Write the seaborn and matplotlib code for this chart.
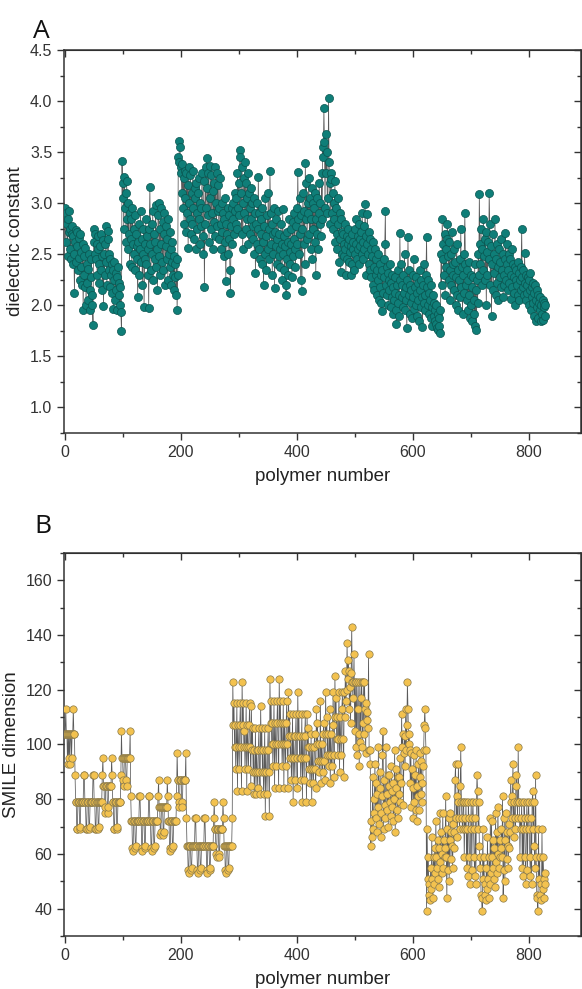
import numpy as np
import pandas as pd
import matplotlib
matplotlib.use("Agg")
import matplotlib.pyplot as plt
from matplotlib.ticker import MultipleLocator, FormatStrFormatter
import seaborn as sns

# ---------------- data ----------------
dielectric = [
2.95,2.88,2.62,2.90,2.80,2.48,2.85,2.72,2.92,2.55,
2.75,2.45,2.70,2.78,2.40,2.68,2.50,2.12,2.62,2.74,
2.42,2.72,2.58,2.35,2.66,2.46,2.25,2.70,2.52,2.38,
2.20,2.60,1.95,2.48,2.30,2.18,2.56,2.00,2.40,2.22,
2.36,2.05,2.50,2.15,1.95,2.28,2.45,2.10,2.00,1.81,
2.75,2.62,2.50,2.70,2.45,2.60,2.30,2.55,2.68,2.40,
2.22,2.58,2.70,2.35,2.48,2.15,2.64,1.99,2.50,2.30,
2.60,2.78,2.42,2.20,2.65,2.73,2.35,2.50,2.18,2.45,
2.30,2.40,2.12,2.35,1.96,2.25,2.42,2.05,2.32,2.15,
2.28,1.95,2.38,2.10,2.22,2.00,2.18,1.93,1.75,3.41,
3.05,3.20,2.75,3.26,2.95,3.10,2.62,3.22,2.85,2.55,
3.00,2.70,2.40,2.90,2.65,2.85,2.38,2.95,2.60,2.75,
2.50,2.88,2.35,2.70,2.58,2.45,2.08,2.62,2.80,2.30,
2.55,2.92,2.42,2.65,2.20,2.50,2.75,1.98,2.45,2.60,
2.85,2.40,2.68,2.30,2.55,1.97,2.75,3.16,2.60,2.35,
2.80,2.50,2.92,2.25,2.70,2.45,2.62,2.98,2.38,2.55,
2.15,2.88,3.00,2.48,2.75,2.30,2.95,2.60,2.42,2.82,
2.35,2.70,2.90,2.20,2.58,2.78,2.45,2.65,2.25,2.85,
2.50,2.38,2.72,2.20,2.55,2.42,2.62,2.30,2.48,2.15,
2.40,2.28,2.10,2.45,1.95,2.30,3.45,3.40,3.61,3.55,
3.35,3.30,3.10,3.38,2.95,3.25,2.80,3.32,3.05,2.72,
3.30,2.90,3.18,2.56,3.35,3.00,2.85,3.28,2.70,3.10,
2.80,3.32,2.95,2.65,3.15,3.05,2.55,3.20,2.90,2.75,
3.10,2.85,3.25,2.60,3.00,2.78,2.95,3.30,2.68,2.50,
3.22,2.18,2.80,3.35,2.95,3.44,3.15,2.88,3.30,2.62,
3.05,3.36,2.75,3.28,2.90,2.55,3.12,2.82,3.20,2.68,
3.35,3.00,2.78,3.30,2.92,3.18,2.65,2.95,3.25,2.80,
2.55,3.00,2.72,2.90,2.48,2.85,3.05,2.62,2.24,2.80,
2.70,2.95,2.50,2.88,2.65,2.35,2.12,2.78,2.95,2.60,
2.85,3.00,2.70,2.92,3.10,2.80,3.05,2.75,3.30,2.95,
3.20,2.88,3.52,3.45,3.10,2.70,3.35,2.55,3.00,3.25,
2.90,3.40,2.75,3.20,3.05,2.85,3.30,2.60,3.10,2.95,
2.70,3.15,2.85,3.00,2.65,2.78,3.05,2.50,2.90,2.32,
2.80,2.60,3.00,2.75,3.26,2.55,2.90,2.45,2.70,2.85,
2.40,2.95,2.62,2.20,2.78,2.50,3.05,2.68,2.35,2.88,
2.55,3.10,2.75,2.45,3.32,2.90,2.60,2.80,2.30,2.70,
2.50,2.95,2.17,2.72,2.58,2.85,2.40,2.65,2.92,2.48,
2.70,2.55,2.38,2.80,2.60,2.25,2.94,2.50,2.68,2.35,
2.58,2.20,2.10,2.72,2.45,2.62,2.30,2.85,2.52,2.40,
2.75,2.60,2.28,2.82,2.48,2.65,2.90,2.55,2.38,2.78,
2.95,2.60,3.31,2.85,2.50,3.05,2.70,2.25,2.88,2.14,
2.75,3.10,2.60,2.92,2.40,3.39,2.85,3.20,2.65,3.00,
2.90,3.25,2.70,3.05,2.55,2.85,3.15,2.45,3.00,2.75,
2.95,2.62,3.10,2.30,2.85,2.70,3.05,2.55,2.90,3.20,
2.80,3.00,2.68,3.30,2.85,3.55,3.45,3.93,3.60,2.95,
3.68,3.30,3.50,2.90,3.05,4.03,3.40,3.20,2.80,3.30,
3.24,2.90,3.10,2.75,3.00,2.85,3.22,2.62,2.95,2.70,
2.55,3.05,2.80,2.42,2.90,2.65,2.33,2.85,2.72,2.50,
2.70,2.60,2.48,2.80,2.55,2.30,2.68,2.45,2.75,2.60,
2.42,2.65,2.52,2.30,2.58,2.70,2.40,2.55,2.62,2.35,
2.50,2.75,2.60,2.85,2.45,2.68,2.55,2.80,2.40,2.65,
2.58,2.72,2.50,2.90,2.62,2.45,2.78,2.55,2.99,2.68,
2.30,2.60,2.89,2.50,2.72,2.40,2.65,2.35,2.55,2.28,
2.48,2.20,2.62,2.38,2.15,2.55,2.30,2.45,2.10,2.35,
2.25,2.50,2.05,2.40,2.18,2.30,2.02,1.94,2.35,2.12,
2.45,2.28,2.60,2.92,2.20,2.38,2.10,2.32,2.00,2.25,
2.15,2.40,1.98,2.22,2.08,2.30,1.92,2.18,2.05,2.12,
2.28,1.95,1.82,2.20,2.02,2.35,2.10,1.90,2.71,2.25,
2.40,2.08,2.20,1.98,2.30,2.12,2.50,1.95,2.18,2.05,
1.78,2.25,2.67,2.10,2.35,1.92,2.20,2.02,2.15,1.88,
2.30,2.08,2.45,1.96,2.18,2.00,2.28,1.90,2.12,2.22,
2.05,1.85,2.35,2.15,1.98,2.25,2.08,1.79,2.20,2.02,
2.40,2.10,1.95,2.30,2.67,2.18,2.00,2.25,1.92,2.12,
2.05,1.88,2.20,1.98,1.80,2.10,1.90,2.02,1.85,1.95,
1.82,2.00,1.78,1.92,1.76,1.88,1.80,1.73,1.95,2.50,
2.20,2.85,2.60,2.45,2.30,2.70,2.10,2.55,2.38,2.65,
2.80,2.48,2.25,2.62,2.35,2.05,2.50,2.20,2.72,2.40,
2.30,2.55,2.15,2.42,2.00,2.28,2.60,2.10,2.35,1.95,
2.25,2.45,2.08,2.75,2.18,2.38,1.92,2.30,2.12,2.50,
2.90,2.40,2.20,2.05,2.35,1.95,2.25,2.10,2.42,1.88,
2.30,2.00,2.18,1.85,2.28,2.05,1.92,2.40,1.80,2.15,
1.76,2.25,2.02,2.50,2.30,3.09,2.60,2.40,2.75,2.20,
2.55,2.35,2.85,2.48,2.65,2.25,2.72,2.00,2.52,2.30,
2.62,2.45,3.10,2.80,2.20,2.58,1.90,2.40,2.70,2.15,
2.50,2.32,2.85,2.10,2.45,2.60,2.22,2.38,2.05,2.55,
2.28,2.42,2.65,2.18,2.35,2.50,2.08,2.30,2.20,2.45,
2.71,2.25,2.40,2.60,2.15,2.35,2.50,2.22,2.45,2.06,
2.30,2.55,2.18,2.40,2.12,2.28,2.38,2.00,2.25,2.35,
2.20,2.42,2.10,2.32,2.05,2.25,2.15,2.38,2.75,2.28,
2.18,2.35,2.10,2.51,2.22,2.30,2.05,2.20,2.12,2.28,
2.00,2.25,2.15,2.32,1.95,2.18,2.08,2.22,2.02,2.12,
1.90,2.20,2.05,1.85,2.15,1.98,2.10,1.88,2.02,1.95,
2.08,1.85,2.00,1.92,2.05,1.86,1.98,2.02,1.90,2.00,
]

smile_dim = [
104,104,113,104,104,93,104,95,104,93,104,104,95,104,104,113,104,104,
89,79,79,69,69,79,79,79,69,70,79,79,79,79,79,89,
89,79,79,69,69,79,79,79,69,70,79,79,79,79,79,89,
89,79,79,69,69,79,79,79,69,70,79,79,79,79,79,89,
95,85,85,75,77,85,85,85,75,77,85,85,85,85,85,95,
89,79,79,69,69,79,79,79,69,70,79,79,79,79,79,89,
105,95,95,87,85,95,95,95,87,85,95,95,95,95,95,105,
81,72,72,62,61,72,72,72,62,63,72,72,72,72,72,81,
81,72,72,62,61,72,72,72,62,63,72,72,72,72,72,81,
81,72,72,62,61,72,72,72,62,63,72,72,72,72,72,81,
87,77,77,67,68,77,77,77,67,68,77,77,77,77,77,87,
81,72,72,62,61,72,72,72,62,63,72,72,72,72,72,81,
97,87,87,79,77,87,87,87,79,77,87,87,87,87,87,97,
73,63,63,54,53,63,63,63,54,55,63,63,63,63,63,73,
73,63,63,54,53,63,63,63,54,55,63,63,63,63,63,73,
73,63,63,54,53,63,63,63,54,55,63,63,63,63,63,73,
79,69,69,60,59,69,69,69,60,59,69,69,69,69,69,79,
73,63,63,54,53,63,63,63,54,55,63,63,63,63,63,73,
123,107,115,99,107,91,99,115,83,107,99,91,107,115,99,83,
123,107,115,99,105,91,99,115,83,107,99,91,107,115,99,85,
114,98,106,90,98,82,90,106,82,98,90,84,98,106,90,82,
114,98,106,90,98,82,90,106,74,98,90,82,98,106,90,74,
124,108,116,100,108,92,100,116,84,108,100,92,108,116,100,84,
124,108,116,100,108,92,100,116,84,108,100,92,108,116,100,84,
119,103,111,95,103,87,95,111,79,103,95,87,103,111,95,84,
119,103,111,95,103,87,95,111,79,103,95,87,103,111,95,79,
111,99,106,91,99,86,91,104,79,99,91,86,99,104,91,84,
113,100,108,94,100,90,94,116,86,100,94,90,104,108,94,87,
119,104,110,96,104,92,96,113,86,104,96,92,107,119,96,88,
125,110,117,102,110,96,102,119,90,110,102,96,113,119,102,88,
119,110,127,116,120,137,124,131,
127,113,121,108,126,143,123,117,
123,133,105,123,99,123,96,113,
123,104,92,123,101,117,123,99,
108,123,104,123,113,97,115,109,
112,106,133,98,
98,93,63,72,66,88,69,75,80,93,
73,86,68,82,77,99,71,84,90,75,
66,81,96,105,69,87,78,73,99,82,
76,89,70,85,89,79,74,92,83,77,
86,72,80,98,68,84,91,76,88,73,
82,88,95,79,
86,111,99,104,78,97,103,92,113,98,
107,123,113,100,104,98,86,97,77,91,
84,73,96,79,89,76,98,72,85,81,
93,76,88,97,82,94,79,86,92,98,
107,113,106,98,
39,69,51,59,45,49,43,55,47,66,51,44,59,49,62,53,
72,59,55,65,51,62,48,75,57,68,53,60,75,55,65,59,
62,81,59,44,69,54,73,50,65,75,58,68,63,55,71,62,
68,87,93,73,81,66,79,93,73,69,85,99,79,73,69,79,
79,59,73,69,79,55,69,52,79,73,59,49,69,79,54,73,
79,69,59,52,73,49,79,89,83,69,79,63,55,59,45,44,
39,69,51,59,45,49,43,55,47,66,51,44,59,49,73,53,
72,59,55,65,51,62,48,75,57,68,53,77,60,55,65,59,
62,69,59,81,44,54,73,50,65,75,58,68,63,55,71,62,
68,87,79,73,81,93,66,79,73,69,85,89,79,73,99,79,
79,59,73,69,79,55,69,52,79,73,59,49,69,79,54,73,
79,69,59,52,73,49,79,83,69,79,63,55,89,59,45,44,
39,69,51,59,45,49,43,69,47,59,51,44,53,49,
]

df_a = pd.DataFrame({"polymer": np.arange(len(dielectric)), "value": dielectric})
df_b = pd.DataFrame({"polymer": np.arange(len(smile_dim)), "value": smile_dim})

# ---------------- style ----------------
sns.set_style("ticks")
plt.rcParams["font.family"] = ["Liberation Sans", "DejaVu Sans"]

fig = plt.figure(figsize=(5.82, 9.89), dpi=100)
ax_a = fig.add_axes([0.110, 0.5622, 0.889, 0.3872])
ax_b = fig.add_axes([0.110, 0.0536, 0.889, 0.3873])

def style_axis(ax, ylim, ymaj, ymin, yfmt, ylabel):
    ax.set_xlim(-1, 891)
    ax.set_ylim(*ylim)
    ax.xaxis.set_major_locator(MultipleLocator(200))
    ax.xaxis.set_minor_locator(MultipleLocator(100))
    ax.yaxis.set_major_locator(MultipleLocator(ymaj))
    ax.yaxis.set_minor_locator(MultipleLocator(ymin))
    ax.yaxis.set_major_formatter(FormatStrFormatter(yfmt))
    for s in ax.spines.values():
        s.set_visible(True)
        s.set_linewidth(1.1)
        s.set_color("#333333")
    ax.tick_params(which="both", direction="out", top=False, right=False,
                   labelsize=11.5, colors="#333333", width=1.0)
    ax.tick_params(which="major", length=5)
    ax.tick_params(which="minor", length=3)
    tx = ax.secondary_xaxis("top")
    tx.xaxis.set_major_locator(MultipleLocator(200))
    tx.xaxis.set_minor_locator(MultipleLocator(100))
    tx.tick_params(which="both", direction="in", labeltop=False, width=1.0, colors="#333333")
    tx.tick_params(which="major", length=5)
    tx.tick_params(which="minor", length=3)
    ty = ax.secondary_yaxis("right")
    ty.yaxis.set_major_locator(MultipleLocator(ymaj))
    ty.yaxis.set_minor_locator(MultipleLocator(ymin))
    ty.tick_params(which="both", direction="in", labelright=False, width=1.0, colors="#333333")
    ty.tick_params(which="major", length=5)
    ty.tick_params(which="minor", length=3)
    ax.set_xlabel("polymer number", fontsize=13.5, color="#222222", labelpad=6)
    ax.set_ylabel(ylabel, fontsize=13.5, color="#222222", labelpad=4)
    for lab in ax.get_xticklabels() + ax.get_yticklabels():
        lab.set_color("#333333")

# Panel A
sns.lineplot(data=df_a, x="polymer", y="value", ax=ax_a, color="#5a5a5a",
             linewidth=0.55, estimator=None, sort=False, zorder=2)
sns.scatterplot(data=df_a, x="polymer", y="value", ax=ax_a, s=34,
                color="#0f7e78", edgecolor="#0a5550", linewidth=0.5, zorder=3)
style_axis(ax_a, (0.75, 4.5), 0.5, 0.25, "%.1f", "dielectric constant")

# Panel B
sns.lineplot(data=df_b, x="polymer", y="value", ax=ax_b, color="#5a5a5a",
             linewidth=0.55, estimator=None, sort=False, zorder=2)
sns.scatterplot(data=df_b, x="polymer", y="value", ax=ax_b, s=28,
                color="#f3c24f", edgecolor="#8a7a4a", linewidth=0.5, zorder=3)
style_axis(ax_b, (30, 170), 20, 10, "%d", "SMILE dimension")

fig.text(0.057, 0.968, "A", fontsize=19, family=["Open Sans", "DejaVu Sans"],
         color="#111111", ha="left", va="center")
fig.text(0.059, 0.468, "B", fontsize=19, family=["Open Sans", "DejaVu Sans"],
         color="#111111", ha="left", va="center")

fig.savefig("out.png", dpi=100)
